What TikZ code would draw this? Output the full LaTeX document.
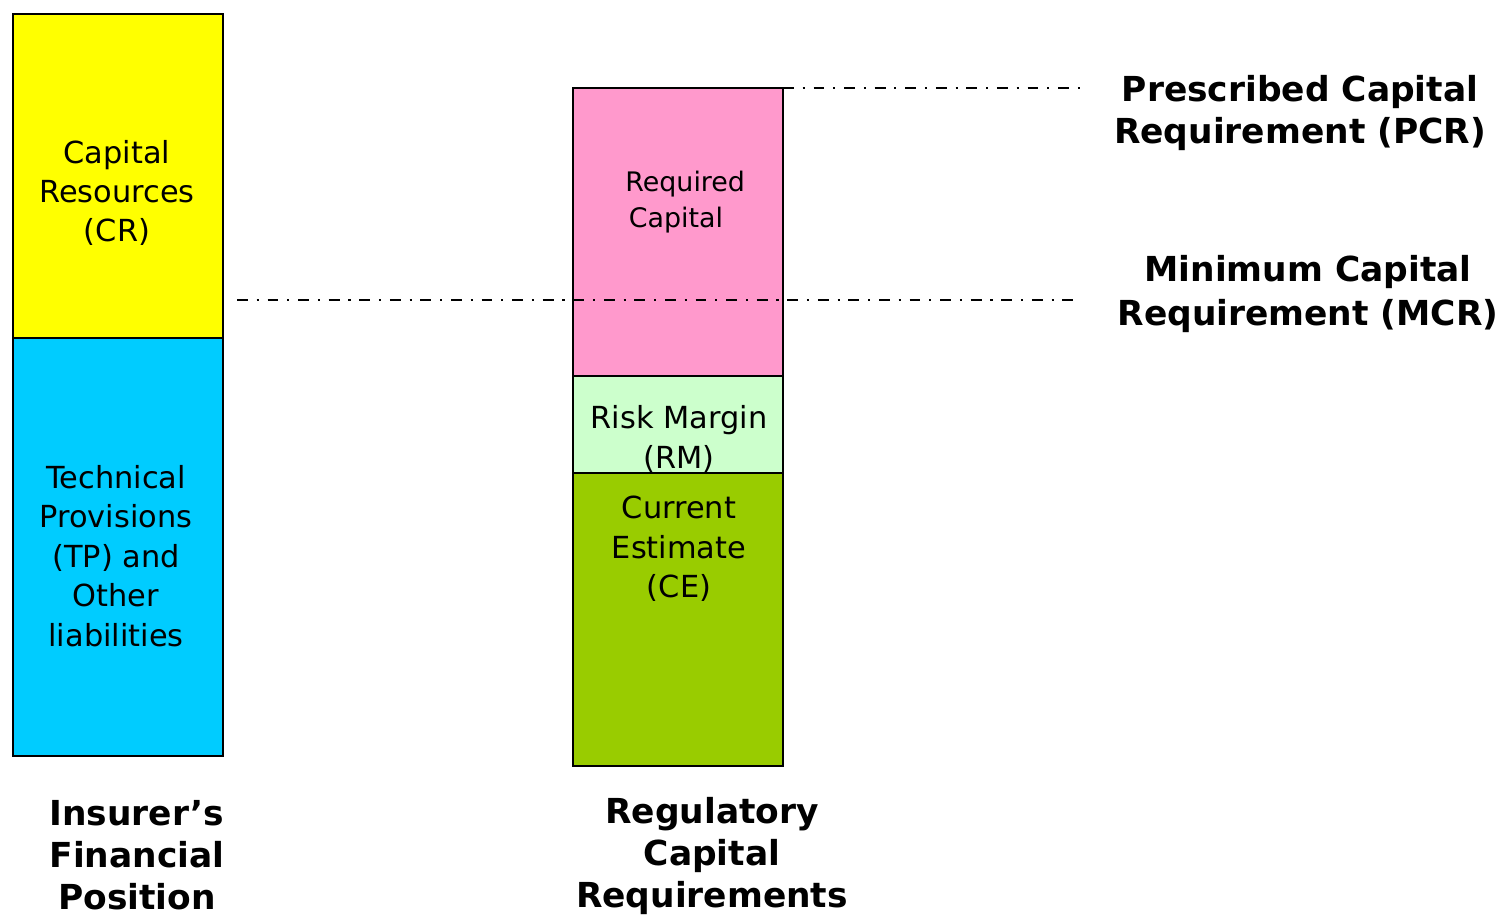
\documentclass[tikz,border=0pt]{standalone}
\usepackage{fontspec}
\setmainfont{DejaVu Sans}
\definecolor{cryellow}{HTML}{FFFF00}
\definecolor{tpblue}{HTML}{00CCFF}
\definecolor{rcpink}{HTML}{FF99CC}
\definecolor{rmgreen}{HTML}{CCFFCC}
\definecolor{cegreen}{HTML}{99CC00}
\begin{document}
\begin{tikzpicture}[x=0.02cm,y=-0.02cm,
  block/.style={draw=black,line width=1.1pt,anchor=north west,outer sep=0pt,
                inner sep=0pt,minimum width=4.2cm},
  level/.style={line width=1.1pt,dash pattern=on 6.2pt off 5.0pt on 1.2pt off 5.0pt},
  boxtext/.style={font=\fontsize{17.3}{22.4}\selectfont,align=center,inner sep=0pt},
  smalltext/.style={font=\fontsize{15.3}{20.4}\selectfont,align=left,inner sep=0pt},
  heading/.style={font=\bfseries\fontsize{19.6}{23.8}\selectfont,align=center,inner sep=0pt}]
\useasboundingbox (0,0) rectangle (1506,914);

% insurer's balance sheet
\node[block,fill=cryellow,minimum height=6.48cm] (cr) at (13,14) {};
\node[block,fill=tpblue,minimum height=8.36cm] (tp) at (13,338) {};

% regulatory stack
\node[block,fill=rcpink,minimum height=5.76cm] (rc) at (573,88) {};
\node[block,fill=rmgreen,minimum height=1.94cm] (rm) at (573,376) {};
\node[block,fill=cegreen,minimum height=5.86cm] (ce) at (573,473) {};

% capital levels
\coordinate (pcrend) at (1080,88);
\coordinate (mcrstart) at (237,300);
\coordinate (mcrend) at (1082,300);
\draw[level] (rc.north east) -- (pcrend);
\draw[level] (mcrstart) -- (mcrend);

% texts inside the blocks
\node[boxtext] (crtxt) at (117,193) {Capital\\Resources\\(CR)};
\node[boxtext] (tptxt) at (116,556) {Technical\\Provisions\\(TP) and\\Other\\liabilities};
\node[smalltext,anchor=west] (rctxt) at (625,202) {Required\\\hspace*{5\pgflinewidth}Capital};
\node[boxtext] (rmtxt) at (679,439) {Risk Margin\\(RM)};
\node[boxtext] (cetxt) at (679,549) {Current\\Estimate\\(CE)};

% column captions and level labels
\node[heading] (lcap) at (137,855) {Insurer’s\\Financial\\Position};
\node[heading] (rcap) at (712,856) {Regulatory\\Capital\\Requirements};
\node[heading,font=\bfseries\fontsize{19.6}{24.2}\selectfont] (pcr) at (1300,113) {Prescribed Capital\\Requirement (PCR)};
\node[heading,font=\bfseries\fontsize{19.6}{24.8}\selectfont] (mcr) at (1308,294) {Minimum Capital\\Requirement (MCR)};
\end{tikzpicture}
\end{document}
